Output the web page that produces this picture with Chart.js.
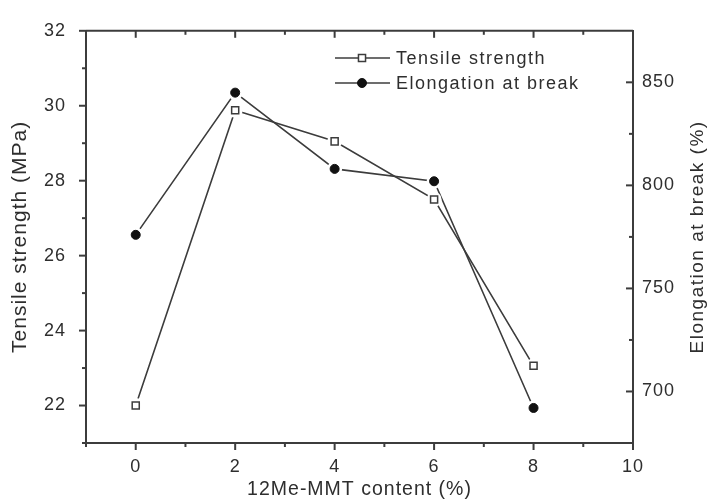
<!DOCTYPE html>
<html>
<head>
<meta charset="utf-8">
<script src="https://cdn.jsdelivr.net/npm/chart.js@4/dist/chart.umd.min.js"></script>
<style>
  html, body { margin: 0; padding: 0; background: #fff; }
  #wrap { width: 709px; height: 504px; position: relative; }
</style>
</head>
<body>
<div id="wrap"><canvas id="propChart"></canvas></div>
<script>
// 12Me-MMT loading (%) and measured properties
const content = [0, 2, 4, 6, 8];
const tensileStrength = [22.0, 29.88, 29.05, 27.5, 23.06];   // MPa
const elongation = [776, 845, 808, 802, 692];                // %

const xTicks = [0, 2, 4, 6, 8, 10];
const xMinor = [-1, 1, 3, 5, 7, 9];
const leftTicks = [22, 24, 26, 28, 30, 32];
const leftMinor = [21, 23, 25, 27, 29, 31];
const rightTicks = [700, 750, 800, 850];
const rightMinor = [725, 775, 825];

const ink = '#2e2e2e';
const axisInk = '#3c3c3c';

Chart.defaults.font.family = '"Liberation Sans", Arial, sans-serif';
Chart.defaults.font.size = 18;
Chart.defaults.color = ink;

function fixedTicks(values) {
    return s => { s.ticks = values.map(v => ({ value: v })); };
}

// hand-drawn tick marks, frame top, legend and right-hand title
const framePlugin = {
    id: 'frame',
    beforeDraw(chart) {
        chart.ctx.letterSpacing = '1px';
    },
    afterDatasetsDraw(chart) {
        const ctx = chart.ctx;
        // small white gap where the lines meet the symbols
        chart.data.datasets.forEach((ds, i) => {
            chart.getDatasetMeta(i).data.forEach(pt => {
                ctx.beginPath();
                ctx.arc(pt.x, pt.y, 7.5, 0, Math.PI * 2);
                ctx.fillStyle = '#fff';
                ctx.fill();
            });
        });
        chart.data.datasets.forEach((ds, i) => {
            chart.getDatasetMeta(i).data.forEach(pt => pt.draw(ctx, chart.chartArea));
        });
    },
    afterDraw(chart) {
        const ctx = chart.ctx;
        const a = chart.chartArea;
        const x = chart.scales.x, y = chart.scales.y, y2 = chart.scales.y2;
        ctx.save();
        ctx.strokeStyle = axisInk;
        ctx.lineWidth = 2;

        ctx.beginPath();
        ctx.moveTo(a.left, a.top);
        ctx.lineTo(a.right, a.top);
        ctx.stroke();

        const mark = (x1, y1, x2, y2p) => {
            ctx.beginPath();
            ctx.moveTo(x1, y1);
            ctx.lineTo(x2, y2p);
            ctx.stroke();
        };
        [[xTicks, 7], [xMinor, 4]].forEach(([vals, len]) => vals.forEach(v => {
            const px = x.getPixelForValue(v);
            mark(px, a.bottom, px, a.bottom + len);
            mark(px, a.top, px, a.top + len);
        }));
        [[leftTicks, 7], [leftMinor, 4]].forEach(([vals, len]) => vals.forEach(v => {
            const py = y.getPixelForValue(v);
            mark(a.left - len, py, a.left, py);
        }));
        [[rightTicks, 7], [rightMinor, 4]].forEach(([vals, len]) => vals.forEach(v => {
            const py = y2.getPixelForValue(v);
            mark(a.right - len, py, a.right, py);
        }));

        // legend
        ctx.letterSpacing = '1.5px';
        chart.data.datasets.forEach((ds, i) => {
            const ly = 58 + i * 25;
            ctx.strokeStyle = ds.borderColor;
            ctx.lineWidth = 1.5;
            mark(335, ly, 390, ly);
            ctx.save();
            ctx.fillStyle = ds.pointBackgroundColor;
            ctx.strokeStyle = ds.pointBorderColor;
            ctx.lineWidth = ds.pointBorderWidth;
            Chart.helpers.drawPoint(ctx, {
                pointStyle: ds.pointStyle,
                radius: ds.pointRadius,
                borderWidth: ds.pointBorderWidth
            }, 362, ly);
            ctx.restore();
            ctx.fillStyle = ink;
            ctx.font = '18px "Liberation Sans", Arial, sans-serif';
            ctx.textAlign = 'left';
            ctx.textBaseline = 'middle';
            ctx.fillText(ds.label, 396, ly + 1);
        });

        // right axis title, reads bottom to top
        ctx.translate(698, (a.top + a.bottom) / 2);
        ctx.rotate(-Math.PI / 2);
        ctx.textAlign = 'center';
        ctx.textBaseline = 'middle';
        ctx.fillStyle = ink;
        ctx.font = '19px "Liberation Sans", Arial, sans-serif';
        ctx.fillText('Elongation at break (%)', 0, 0);
        ctx.restore();
    }
};

new Chart(document.getElementById('propChart'), {
    type: 'line',
    data: {
        datasets: [
            {
                label: 'Tensile strength',
                data: content.map((c, i) => ({ x: c, y: tensileStrength[i] })),
                yAxisID: 'y',
                borderColor: axisInk,
                borderWidth: 1.6,
                pointStyle: 'rect',
                pointRadius: 5,
                pointBorderWidth: 1.5,
                pointBackgroundColor: '#fff',
                pointBorderColor: axisInk,
                tension: 0
            },
            {
                label: 'Elongation at break',
                data: content.map((c, i) => ({ x: c, y: elongation[i] })),
                yAxisID: 'y2',
                borderColor: axisInk,
                borderWidth: 1.6,
                pointStyle: 'circle',
                pointRadius: 4.5,
                pointBorderWidth: 1,
                pointBackgroundColor: '#111',
                pointBorderColor: '#111',
                tension: 0
            }
        ]
    },
    options: {
        responsive: true,
        maintainAspectRatio: false,
        animation: false,
        layout: { padding: { top: 22, left: 0, right: 0, bottom: 0 } },
        plugins: {
            legend: { display: false },
            tooltip: { enabled: false }
        },
        scales: {
            x: {
                type: 'linear',
                min: -1,
                max: 10,
                afterBuildTicks: fixedTicks(xTicks),
                afterFit: s => { s.height = 61; },
                grid: { display: true, drawOnChartArea: false, drawTicks: false },
                border: { color: axisInk, width: 2 },
                ticks: { padding: 13, color: ink },
                title: {
                    display: true,
                    text: '12Me-MMT content (%)',
                    font: { size: 19.5 },
                    color: ink,
                    padding: { top: 0, bottom: 3 }
                }
            },
            y: {
                position: 'left',
                min: 21,
                max: 32,
                afterBuildTicks: fixedTicks(leftTicks),
                afterFit: s => { s.width = 86; },
                grid: { display: true, drawOnChartArea: false, drawTicks: false },
                border: { color: axisInk, width: 2 },
                ticks: { padding: 20, color: ink },
                title: {
                    display: true,
                    text: 'Tensile strength (MPa)',
                    font: { size: 21 },
                    color: ink,
                    padding: { top: 8, bottom: 0 }
                }
            },
            y2: {
                position: 'right',
                min: 675,
                max: 875,
                afterBuildTicks: fixedTicks(rightTicks),
                afterFit: s => { s.width = 76; },
                grid: { display: true, drawOnChartArea: false, drawTicks: false },
                border: { color: axisInk, width: 2 },
                ticks: { padding: 9, color: ink }
            }
        }
    },
    plugins: [framePlugin]
});
</script>
</body>
</html>
